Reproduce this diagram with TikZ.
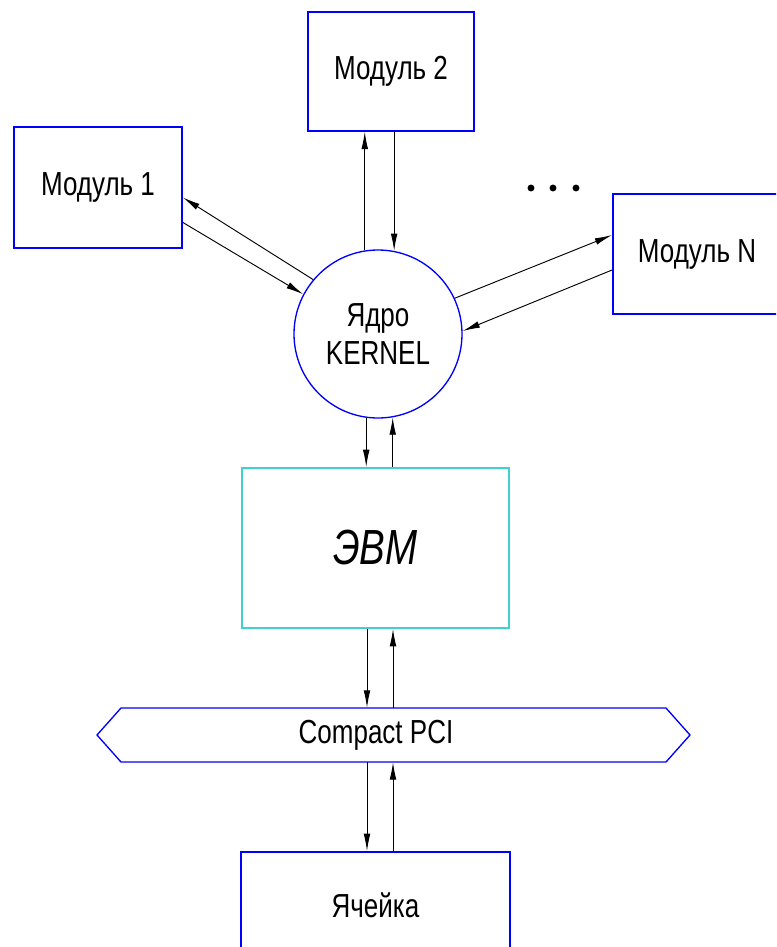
\documentclass[tikz,border=0pt]{standalone}
\usepackage{fontspec}
\setmainfont{Liberation Sans}[FakeStretch=0.78]
\usetikzlibrary{arrows.meta,calc}
\definecolor{evmcyan}{RGB}{64,208,208}
\begin{document}
\begin{tikzpicture}[x=.75pt,y=-.75pt, every node/.style={font=\fontsize{25pt}{29pt}\selectfont},
  modbox/.style={draw=blue,line width=1.4pt,minimum width=126pt,minimum height=90pt},
  link/.style={line width=.7pt,-{Latex[length=13pt,width=5pt]}}]
\useasboundingbox (0,0) rectangle (776,947);
\clip (0,0) rectangle (776,947);
\coordinate (down) at (367,0);
\coordinate (up) at (393,0);
\node[modbox,minimum width=124.5pt,minimum height=89pt] (mod2) at (391,71.5) {Модуль 2};
\node[modbox,minimum height=91pt] (mod1) at (98,187.5) {Модуль 1};
\node[modbox] (modN) at (697,254) {Модуль N};
\node[circle,draw=blue,line width=1pt,minimum size=126pt,align=center] (kernel) at (378,334) {Ядро\\KERNEL};
\node[draw=evmcyan,line width=1.4pt,minimum width=200pt,minimum height=120pt,font=\fontsize{37pt}{40pt}\selectfont\itshape] (evm) at (375.5,548) {ЭВМ};
\node[minimum height=40.5pt,inner sep=0pt] (pci) at (376,735) {Compact PCI};
\draw[blue,line width=1pt] (97,735)--(121,708)--(666,708)--(690,735)--(666,762)--(121,762)--cycle;
\node[modbox,minimum width=201.75pt,minimum height=79.5pt] (cell) at (375.5,905) {Ячейка};
\foreach \x in {531,553,576} {\fill (\x,188) circle (2.6pt);}
\draw[link] (kernel.99) -- (kernel.99 |- mod2.south);
\draw[link] (mod2.south -| kernel.79) -- (kernel.79);
\draw[link] (kernel.140) -- ($(mod1.east)+(0,10)$);
\draw[link] ($(mod1.east)+(0,35)$) -- (kernel.152);
\draw[link] (kernel.25) -- ($(modN.west)+(0,-19)$);
\draw[link] ($(modN.west)+(0,16)$) -- (kernel.2);
\draw[link] (kernel.262) -- (kernel.262 |- evm.north);
\draw[link] (evm.north -| kernel.280) -- (kernel.280);
\draw[link] (evm.south -| down) -- (pci.north -| down);
\draw[link] (pci.north -| up) -- (evm.south -| up);
\draw[link] (pci.south -| down) -- (cell.north -| down);
\draw[link] (cell.north -| up) -- (pci.south -| up);
\end{tikzpicture}
\end{document}
